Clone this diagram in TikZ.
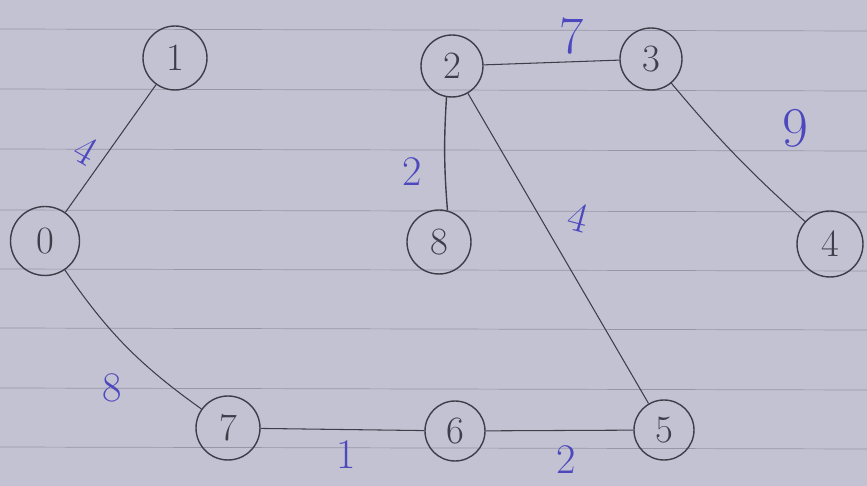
\documentclass[tikz,border=0pt]{standalone}
\usepackage{xcolor}
\definecolor{paper}{RGB}{194,194,210}
\definecolor{rule}{RGB}{150,150,168}
\definecolor{pencil}{RGB}{62,62,74}
\definecolor{ink}{RGB}{78,72,190}
\usetikzlibrary{positioning}

\tikzset{
    vertex/.style={draw=pencil, circle, thick, minimum size=1.28cm, inner sep=0pt,
        text=pencil, font=\fontsize{22}{26}\selectfont},
    edge/.style={draw=pencil, semithick},
    weight/.style={text=ink, font=\fontsize{24}{28}\selectfont}
}

\begin{document}
\begin{tikzpicture}[x=0.02cm, y=-0.02cm]
    % Lined paper
    \useasboundingbox (0,0) rectangle (867,486);
    \fill[paper] (0,0) rectangle (867,486);
    \foreach \ypos in {29,89,149,210,269,328,388,447}
        \draw[rule, thin] (0,\ypos) -- (867,\ypos+2);

    % Vertices
    \node[vertex, minimum size=1.38cm] (v0) at (45,241) {0};
    \node[vertex] (v1) at (175,58) {1};
    \node[vertex, minimum size=1.24cm] (v2) at (452,66) {2};
    \node[vertex, minimum size=1.24cm] (v3) at (651,59) {3};
    \node[vertex, minimum size=1.32cm] (v4) at (830,244) {4};
    \node[vertex, minimum size=1.2cm] (v5) at (664,430) {5};
    \node[vertex, minimum size=1.2cm] (v6) at (455,431) {6};
    \node[vertex] (v7) at (228,428) {7};
    \node[vertex] (v8) at (439,242) {8};

    % Edges
    \draw[edge] (v0) -- (v1);
    \draw[edge] (v0) to[bend right=10] (v7);
    \draw[edge] (v7) -- (v6);
    \draw[edge] (v6) -- (v5);
    \draw[edge] (v2) -- (v3);
    \draw[edge, thick] (v2.-100) to[bend right=4] (v8.75);
    \draw[edge] (v2) -- (v5);
    \draw[edge] (v3) to[bend right=4] (v4);

    % Weights
    \node[weight, rotate=-30] (w01) at (86,150) {4};
    \node[weight] (w07) at (112,388) {8};
    \node[weight] (w76) at (346,455) {1};
    \node[weight] (w65) at (566,460) {2};
    \node[weight, font=\fontsize{30}{34}\selectfont] (w23) at (572,36) {7};
    \node[weight, font=\fontsize{32}{36}\selectfont] (w34) at (795,128) {9};
    \node[weight] (w28) at (412,172) {2};
    \node[weight, rotate=-15] (w25) at (578,217) {4};
\end{tikzpicture}
\end{document}
